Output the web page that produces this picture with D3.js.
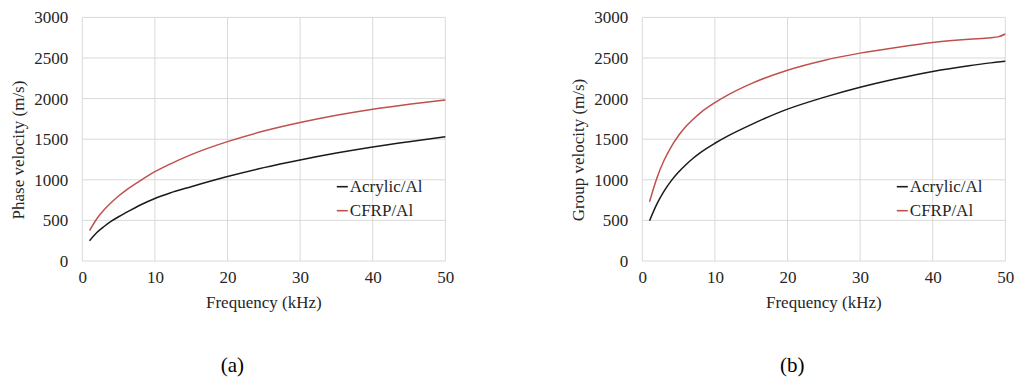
<!DOCTYPE html>
<html>
<head>
<meta charset="utf-8">
<script src="https://cdn.jsdelivr.net/npm/d3@7"></script>
<style>
  html, body { margin: 0; padding: 0; background: #fff; }
  svg { display: block; }
</style>
</head>
<body>
<svg id="chart" width="1019" height="383"></svg>
<script>
// ---- Data ----
const seriesNames = ["Acrylic/Al", "CFRP/Al"];
const seriesColors = ["#1a1a1a", "#c0504d"];

const phaseFreq = [1, 2, 3, 4, 5, 6, 8, 10, 12, 15, 20, 25, 30, 35, 40, 45, 50];
const phaseAcrylic = [250, 350, 425, 490, 545, 595, 690, 770, 835, 915, 1040, 1150, 1245, 1330, 1405, 1470, 1530];
const phaseCFRP = [373, 520, 630, 720, 800, 870, 990, 1100, 1190, 1310, 1470, 1600, 1705, 1795, 1870, 1930, 1983];

const groupFreq = [1, 2, 3, 4, 5, 6, 7, 8, 10, 12, 15, 20, 25, 30, 35, 40, 45, 48, 49, 50];
const groupAcrylic = [495, 700, 860, 990, 1095, 1185, 1265, 1335, 1450, 1550, 1680, 1870, 2015, 2140, 2245, 2335, 2405, 2440, 2450, 2460];
const groupCFRP = [730, 1020, 1240, 1410, 1545, 1655, 1745, 1825, 1950, 2055, 2185, 2350, 2470, 2560, 2630, 2690, 2730, 2750, 2760, 2795];

const xTicks = [0, 10, 20, 30, 40, 50];
const yTicks = [0, 500, 1000, 1500, 2000, 2500, 3000];

const panels = [
  { left: 82.3, yTitle: "Phase velocity (m/s)", caption: "(a)", freq: phaseFreq, series: [phaseAcrylic, phaseCFRP] },
  { left: 642.3, yTitle: "Group velocity (m/s)", caption: "(b)", freq: groupFreq, series: [groupAcrylic, groupCFRP] }
];

const FONT = '"Liberation Serif", "Times New Roman", serif';
const svg = d3.select("#chart");
const plotW = 363, plotTop = 17.4, plotBottom = 261;

panels.forEach(p => {
  const x = d3.scaleLinear().domain([0, 50]).range([p.left, p.left + plotW]);
  const y = d3.scaleLinear().domain([0, 3000]).range([plotBottom, plotTop]);
  const g = svg.append("g");

  // gridlines
  g.append("g").selectAll("line").data(yTicks).join("line")
    .attr("x1", x(0)).attr("x2", x(50))
    .attr("y1", d => y(d)).attr("y2", d => y(d))
    .attr("stroke", "#d9d9d9").attr("stroke-width", 1);
  g.append("g").selectAll("line").data(xTicks).join("line")
    .attr("x1", d => x(d)).attr("x2", d => x(d))
    .attr("y1", y(0)).attr("y2", y(3000))
    .attr("stroke", "#d9d9d9").attr("stroke-width", 1);

  // axes (labels only)
  const xa = g.append("g").attr("transform", `translate(0,${plotBottom})`)
    .call(d3.axisBottom(x).tickValues(xTicks).tickFormat(d3.format("d")).tickSize(0).tickPadding(10));
  const ya = g.append("g").attr("transform", `translate(${p.left},0)`)
    .call(d3.axisLeft(y).tickValues(yTicks).tickFormat(d3.format("d")).tickSize(0).tickPadding(14));
  [xa, ya].forEach(a => {
    a.select(".domain").remove();
    a.selectAll("text").style("font-family", FONT).style("font-size", "17px").style("fill", "#262626");
  });

  // series
  const line = d3.line().curve(d3.curveMonotoneX);
  p.series.forEach((vals, i) => {
    g.append("path")
      .attr("d", line(p.freq.map((f, k) => [x(f), y(vals[k])])))
      .attr("fill", "none")
      .attr("stroke", seriesColors[i])
      .attr("stroke-width", 1.5);
  });

  // legend
  const lx = p.left + 254.5;
  seriesNames.forEach((name, i) => {
    const ly = 186.7 + i * 24;
    g.append("line").attr("x1", lx).attr("x2", lx + 11)
      .attr("y1", ly).attr("y2", ly)
      .attr("stroke", seriesColors[i]).attr("stroke-width", 1.6);
    g.append("text").attr("x", lx + 13).attr("y", ly)
      .attr("dominant-baseline", "central")
      .style("font-family", FONT).style("font-size", "17px").style("fill", "#262626")
      .text(name);
  });

  // axis titles
  g.append("text").attr("x", p.left + plotW / 2).attr("y", 302)
    .attr("text-anchor", "middle").attr("dominant-baseline", "central")
    .style("font-family", FONT).style("font-size", "17px").style("fill", "#262626")
    .text("Frequency (kHz)");
  g.append("text")
    .attr("transform", `translate(${p.left - 64},150) rotate(-90)`)
    .attr("text-anchor", "middle").attr("dominant-baseline", "central")
    .style("font-family", FONT).style("font-size", "17px").style("fill", "#262626")
    .text(p.yTitle);

  // caption
  g.append("text").attr("x", p.left + 150).attr("y", 365)
    .attr("text-anchor", "middle").attr("dominant-baseline", "central")
    .style("font-family", FONT).style("font-size", "21px").style("fill", "#000")
    .text(p.caption);
});
</script>
</body>
</html>
